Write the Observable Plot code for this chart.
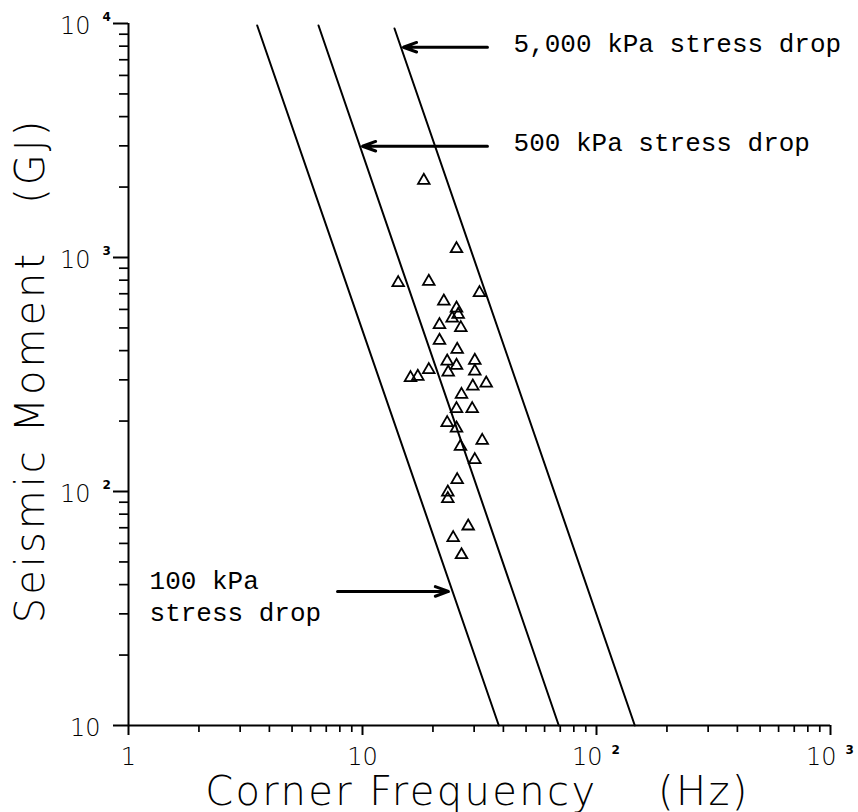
<!DOCTYPE html>
<html>
<head>
<meta charset="utf-8">
<script src="https://cdn.jsdelivr.net/npm/d3@7"></script>
<script src="https://cdn.jsdelivr.net/npm/@observablehq/plot@0.6"></script>
<style>
  html, body { margin: 0; padding: 0; background: #fff; }
  #chart svg { display: block; }
</style>
</head>
<body>
<div id="chart"></div>
<script>
// ---- Data ----
// Corner frequency (Hz) and seismic moment (GJ) of each event (triangles)
const cornerFrequency = [18.28, 25.22, 14.21, 19.20, 31.62, 22.26, 25.22, 24.17, 25.64, 21.33,
  26.31, 21.33, 25.39, 23.01, 30.19, 25.22, 19.20, 23.24, 30.19, 16.04,
  17.23, 33.78, 29.60, 26.49, 25.22, 29.43, 23.01, 25.22, 26.23, 32.48,
  30.19, 25.39, 23.15, 23.15, 28.29, 24.41, 26.49];
const seismicMoment = [2134, 1089, 779.6, 789.6, 706.6, 650.5, 607.3, 550.4, 570.8, 515.7,
  500.7, 441.9, 404.4, 360.5, 362.9, 345.5, 331.2, 323.5, 326.7, 306.1,
  310.1, 290.2, 281.8, 259.7, 225.6, 225.6, 196.6, 186.4, 155.7, 165.1,
  136.6, 112.2, 99.3, 93.1, 71.1, 63.4, 53.6];

// Constant stress-drop lines: visible end points (frequency, moment)
const stressDrops = ["100 kPa", "500 kPa", "5,000 kPa"];
const lineFreqStart = [3.548, 6.486, 13.70];
const lineMomentStart = [9805, 9805, 9520];
const lineFreqEnd = [38.24, 69.0, 145.8];
const lineMomentEnd = [10, 10, 10];

// Annotations
const annotationTexts = ["5,000 kPa stress drop", "500 kPa stress drop", "100 kPa\nstress drop"];
const annotationFreq = [44.2, 44.2, 1.23];
const annotationMoment = [7586, 2838, 28.1];
const arrowFreqFrom = [34.2, 34.2, 7.82];
const arrowFreqTo = [14.96, 10.0, 23.3];
const arrowMoment = [7918, 2989, 37.4];

// Axes
const xMajorTicks = [1, 10, 100, 1000];
const xTickBase = ["1", "10", "10", "10"];
const xTickExp = ["", "", "2", "3"];
const yMajorTicks = [10, 100, 1000, 10000];
const yTickBase = ["10", "10", "10", "10"];
const yTickExp = ["", "2", "3", "4"];
const xTitle = "Corner Frequency\u00a0\u00a0\u00a0\u00a0(Hz)";
const yTitle = "Seismic Moment\u00a0\u00a0\u00a0(GJ)";

// ---- Tables built from the arrays ----
const events = cornerFrequency.map((f, i) => ({f, m: seismicMoment[i]}));
const lines = stressDrops.flatMap((s, i) => [
  {s, f: lineFreqStart[i], m: lineMomentStart[i]},
  {s, f: lineFreqEnd[i], m: lineMomentEnd[i]}
]);
const annotations = annotationTexts.map((t, i) => ({t, f: annotationFreq[i], m: annotationMoment[i]}));
const arrows = arrowMoment.map((m, i) => ({f1: arrowFreqFrom[i], f2: arrowFreqTo[i], m}));
const xTicks = xMajorTicks.map((v, i) => ({v, base: xTickBase[i], exp: xTickExp[i]}));
const yTicks = yMajorTicks.map((v, i) => ({v, base: yTickBase[i], exp: yTickExp[i]}));
function minorTicks(lo, hi) {
  const out = [];
  for (let d = lo; d < hi; d *= 10) for (let k = 2; k <= 9; k++) out.push(d * k);
  return out;
}
const xMinor = minorTicks(1, 1000);
const yMinor = minorTicks(10, 10000);

const sans = "'DejaVu Sans', 'Liberation Sans', sans-serif";
const mono = "'Liberation Mono', 'DejaVu Sans Mono', monospace";

const chart = Plot.plot({
  width: 858,
  height: 812,
  marginLeft: 128,
  marginRight: 28,
  marginTop: 23,
  marginBottom: 87,
  x: {type: "log", domain: [1, 1000]},
  y: {type: "log", domain: [10, 10000]},
  style: {background: "white", color: "black", overflow: "visible", fontFamily: sans},
  marks: [
    // axis lines
    Plot.ruleX([1], {strokeWidth: 2}),
    Plot.ruleY([10], {strokeWidth: 2}),
    // ticks
    Plot.axisX(xMajorTicks, {tickSize: 10, tickFormat: () => "", strokeWidth: 2, label: null}),
    Plot.axisX(xMinor, {tickSize: 7, tickFormat: () => "", strokeWidth: 1.7, label: null}),
    Plot.axisY(yMajorTicks, {tickSize: 15, tickFormat: () => "", strokeWidth: 2, label: null}),
    Plot.axisY(yMinor, {tickSize: 9, tickFormat: () => "", strokeWidth: 1.7, label: null}),
    // tick labels
    Plot.text(xTicks.filter(d => !d.exp), {x: "v", text: "base", frameAnchor: "bottom", lineAnchor: "top", textAnchor: "middle", dy: 22, fontSize: 24, fontWeight: 300}),
    Plot.text(xTicks.filter(d => d.exp), {x: "v", text: "base", frameAnchor: "bottom", lineAnchor: "top", textAnchor: "end", dx: 6, dy: 22, fontSize: 24, fontWeight: 300}),
    Plot.text(xTicks.filter(d => d.exp), {x: "v", text: "exp", frameAnchor: "bottom", lineAnchor: "middle", textAnchor: "start", dx: 15, dy: 25, fontSize: 12, fontWeight: "bold"}),
    Plot.text(yTicks.filter(d => !d.exp), {y: "v", text: "base", frameAnchor: "left", textAnchor: "end", dx: -28, dy: 3, fontSize: 24, fontWeight: 300}),
    Plot.text(yTicks.filter(d => d.exp), {y: "v", text: "base", frameAnchor: "left", textAnchor: "end", dx: -38, dy: 3, fontSize: 24, fontWeight: 300}),
    Plot.text(yTicks.filter(d => d.exp), {y: "v", text: "exp", frameAnchor: "left", textAnchor: "start", dx: -26, dy: -6.5, fontSize: 12, fontWeight: "bold"}),
    // axis titles
    Plot.text([xTitle], {text: d => d, frameAnchor: "bottom", lineAnchor: "bottom", textAnchor: "middle", dx: -2, dy: 79, fontSize: 40, fontWeight: 300}),
    Plot.text([yTitle], {text: d => d, frameAnchor: "left", rotate: -90, lineAnchor: "top", textAnchor: "middle", dx: -113, dy: -4, fontSize: 40, fontWeight: 300}),
    // stress-drop lines
    Plot.line(lines, {x: "f", y: "m", z: "s", stroke: "black", strokeWidth: 2}),
    // events
    Plot.dot(events, {x: "f", y: "m", symbol: "triangle", r: 4.3, stroke: "black", strokeWidth: 1.8, fill: "none"}),
    // annotations
    Plot.arrow(arrows, {x1: "f1", y1: "m", x2: "f2", y2: "m", stroke: "black", strokeWidth: 3, headLength: 7, headAngle: 40}),
    Plot.text(annotations, {x: "f", y: "m", text: "t", textAnchor: "start", lineAnchor: "bottom", lineHeight: 1.23, fontSize: 26, fontFamily: mono})
  ]
});
// widen the letter spacing of the two axis titles, as in the reference
const svgTexts = d3.select(chart).selectAll("text");
svgTexts.filter(function () { return this.textContent === xTitle; }).style("letter-spacing", "2.4px");
svgTexts.filter(function () { return this.textContent === yTitle; }).style("letter-spacing", "3px");
document.getElementById("chart").appendChild(chart);
</script>
</body>
</html>
